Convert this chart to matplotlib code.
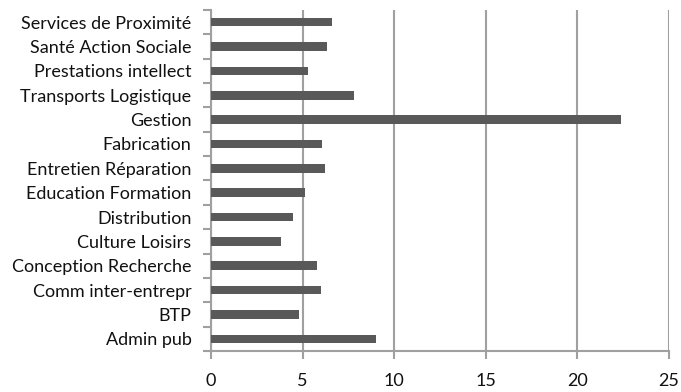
#! /usr/bin/env python3

import numpy as np
import matplotlib.pyplot as plt

# Categories, bottom to top as drawn
categories = ["Admin pub", "BTP", "Comm inter-entrepr", "Conception Recherche",
              "Culture Loisirs", "Distribution", "Education Formation",
              "Entretien Réparation", "Fabrication", "Gestion",
              "Transports Logistique", "Prestations intellect",
              "Santé Action Sociale", "Services de Proximité"]
values = [9.0, 4.8, 6.0, 5.8, 3.85, 4.5, 5.15, 6.2, 6.05, 22.4,
          7.8, 5.3, 6.35, 6.6]
xticks = [0, 5, 10, 15, 20, 25]

plt.rcParams['font.family'] = ['Lato', 'DejaVu Sans']

fig = plt.figure(figsize=(6.81, 3.92), dpi=100)
ax = fig.add_axes([0.3098, 0.1046, 0.6722, 0.8699])

grey = "#a0a0a0"
pos = np.arange(len(categories))
ax.barh(pos, values, height=0.35, color="#595959", zorder=3)

ax.set_xlim(0, 25)
ax.set_ylim(-0.5, len(categories) - 0.5)
ax.set_xticks(xticks)
ax.set_yticks(pos)
ax.set_yticklabels(categories)
ax.set_yticks(np.arange(-0.5, len(categories), 1.0), minor=True)

ax.xaxis.grid(True, color=grey, linewidth=1.5, zorder=0)
for s in ["top", "right"]:
    ax.spines[s].set_visible(False)
for s in ["left", "bottom"]:
    ax.spines[s].set_color(grey)
    ax.spines[s].set_linewidth(1.5)

ax.tick_params(axis="y", which="major", length=0, pad=14, labelsize=13,
               labelcolor="#111111")
ax.tick_params(axis="y", which="minor", length=6, width=1.5, color=grey)
ax.tick_params(axis="x", length=6, width=1.5, color=grey, pad=10, labelsize=13,
               labelcolor="#111111")

fig.savefig("out.png", dpi=100)
